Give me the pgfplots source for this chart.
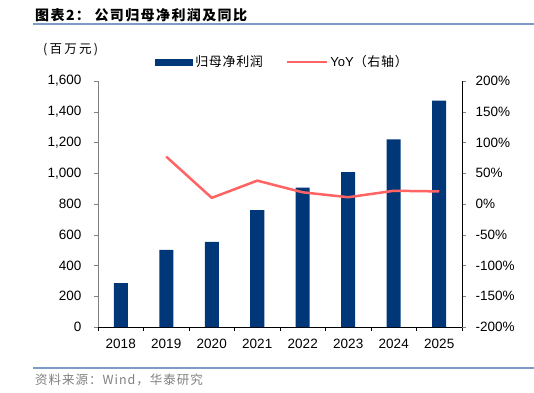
\documentclass[border=0pt]{standalone}
\usepackage{pgfplots}
\pgfplotsset{compat=1.18}
\usepackage{fontspec}
\setmainfont{Liberation Sans}
\newfontfamily\cjk{Noto Sans CJK SC}
\definecolor{barblue}{RGB}{0,55,120}
\definecolor{yoyred}{RGB}{255,99,99}
\definecolor{rulecol}{RGB}{122,156,198}
\definecolor{srcgray}{RGB}{128,128,128}
\begin{document}
\begin{tikzpicture}[x=1pt,y=1pt]
\path[use as bounding box] (0,0) rectangle (534,392);
\node[anchor=west,inner sep=0] at (35,377) {\cjk\bfseries\addfontfeatures{LetterSpace=10}\fontsize{14}{16}\selectfont 图表2： 公司归母净利润及同比};
\draw[rulecol,line width=1.2pt] (33,368) -- (534,368);
\draw[rulecol,line width=1.2pt] (33,24) -- (534,24);
\node[anchor=west,inner sep=0,text=srcgray] at (35,12) {\cjk\addfontfeatures{LetterSpace=8}\fontsize{12.5}{14}\selectfont 资料来源：Wind，华泰研究};
\node[anchor=west,inner sep=0] at (43,342) {\cjk\addfontfeatures{LetterSpace=18}\fontsize{12.5}{14}\selectfont (百万元)};
\begin{axis}[
  at={(98pt,65pt)}, anchor=south west, scale only axis,
  width=364pt, height=246pt,
  xmin=-0.5, xmax=7.5, ymin=0, ymax=1600,
  axis x line*=bottom, axis y line*=left,
  x axis line style={black}, y axis line style={gray},
  xtick={0,...,7}, xticklabels={2018,2019,2020,2021,2022,2023,2024,2025},
  minor xtick={-0.5,0.5,...,7.5},
  major x tick style={draw=none}, minor x tick style={black},
  ytick={0,200,...,1600},
  yticklabels={0,200,400,600,800,{1,000},{1,200},{1,400},{1,600}},
  ytick style={gray},
  tick align=outside, major tick length=4pt, minor tick length=4pt,
  ticklabel style={font=\fontsize{13.5}{16}\selectfont},
  yticklabel shift=9pt, xticklabel shift=5pt,
  legend style={at={(axis description cs:0.157,1.077)}, anchor=west, draw=none, fill=none,
    legend columns=2, inner sep=0pt,
    font=\cjk\addfontfeatures{LetterSpace=5}\fontsize{13}{15}\selectfont,
    /tikz/every even column/.append style={column sep=21pt}},
]
\addplot[ybar, bar width=14pt, fill=barblue, draw=none,
  legend image code/.code={\fill[barblue] (0pt,-3.5pt) rectangle (38pt,3.5pt);}]
  coordinates {(0,286) (1,501) (2,553) (3,761) (4,906) (5,1008) (6,1220) (7,1472)};
\addlegendentry{归母净利润}
\addlegendimage{yoyred, line width=2.5pt, legend image code/.code={\draw[yoyred, line width=2.5pt] (0pt,0pt) -- (40pt,0pt);}}
\addlegendentry{{\fontspec{Liberation Sans}YoY}（右轴）}
\end{axis}
\begin{axis}[
  at={(98pt,65pt)}, anchor=south west, scale only axis,
  width=364pt, height=246pt,
  xmin=-0.5, xmax=7.5, ymin=-200, ymax=200,
  axis x line=none, axis y line*=right,
  y axis line style={black},
  ytick={-200,-150,...,200},
  yticklabels={-200\%,-150\%,-100\%,-50\%,0\%,50\%,100\%,150\%,200\%},
  tick align=outside, major tick length=4pt,
  yticklabel shift=6pt,
  ticklabel style={font=\fontsize{13.5}{16}\selectfont},
]
\addplot[yoyred, line width=2.5pt, line join=round]
  coordinates {(1,77) (2,10) (3,38) (4,19) (5,11) (6,21.5) (7,20.5)};
\end{axis}
\end{tikzpicture}
\end{document}
